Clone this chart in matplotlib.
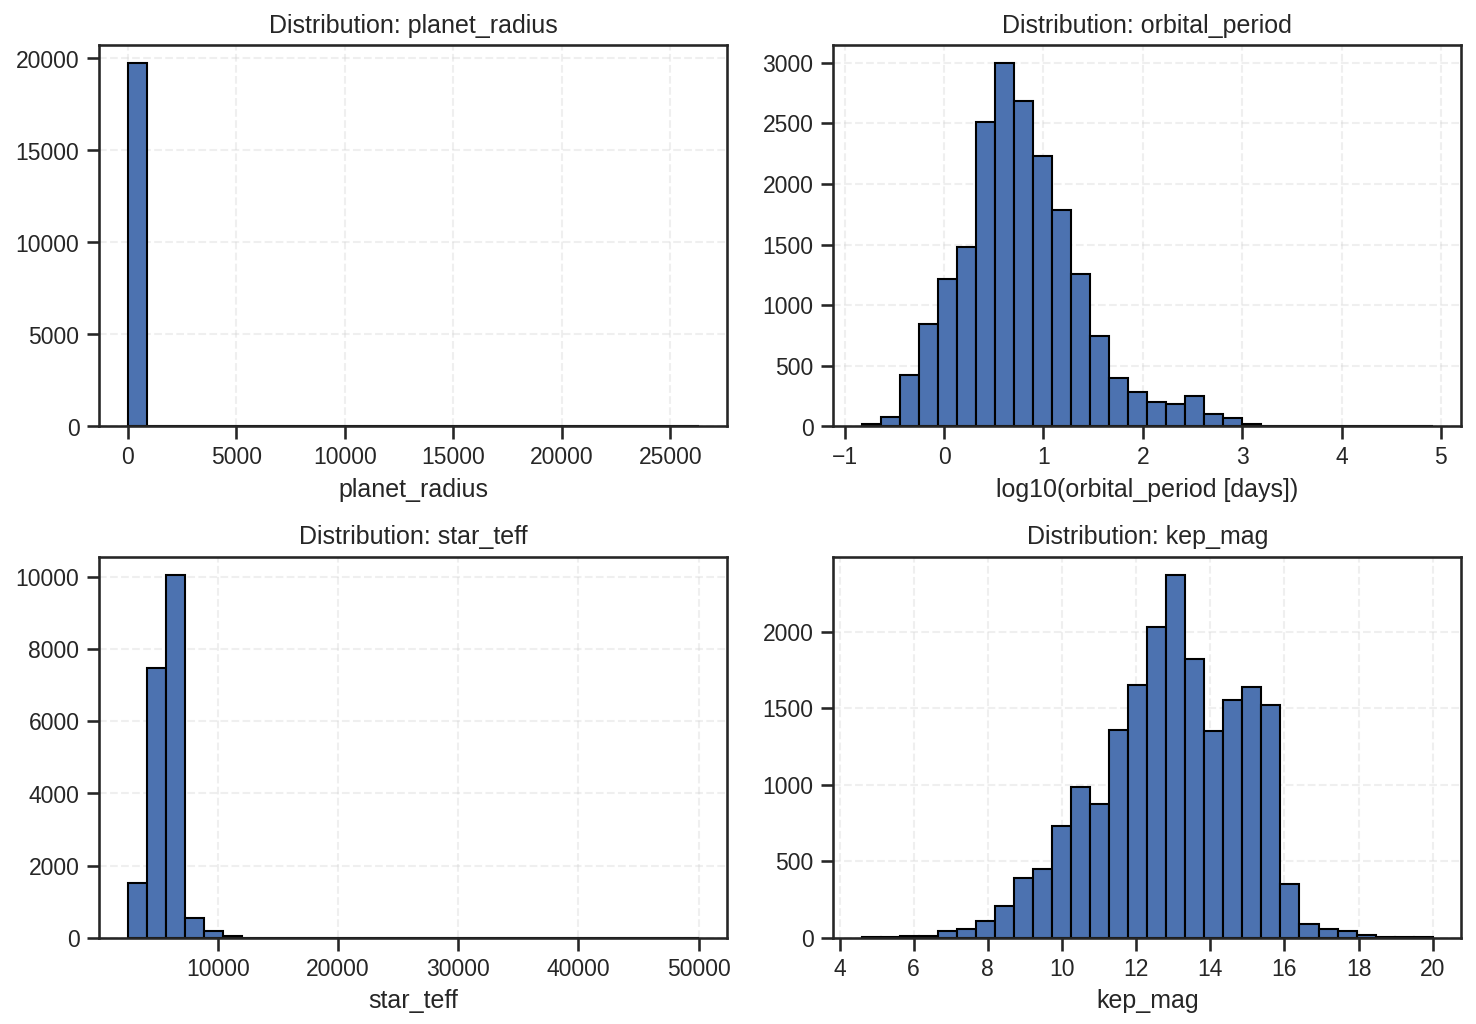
import numpy as np
import matplotlib
matplotlib.use("Agg")
import matplotlib.pyplot as plt
import seaborn as sns

sns.set_theme(style="ticks")
plt.rcParams['font.family'] = ['Liberation Sans', 'DejaVu Sans']

# histogram counts (30 bins each)
planet_radius_range = (0.5, 26300)
planet_radius_counts = [19746, 18, 6, 3, 2, 1, 1, 0, 1, 0, 0, 0, 0, 0, 0,
                        0, 0, 0, 0, 0, 0, 0, 0, 0, 0, 0, 0, 0, 0, 1]

orbital_period_range = (-0.828, 4.917)
orbital_period_counts = [20, 77, 426, 843, 1214, 1478, 2511, 2995, 2687, 2228,
                         1783, 1255, 745, 398, 283, 200, 184, 250, 102, 69,
                         19, 4, 2, 1, 1, 0, 0, 0, 0, 1]

star_teff_range = (2500, 50000)
star_teff_counts = [1521, 7465, 10055, 553, 203, 46, 12, 6, 3, 2, 1, 1, 0, 0, 0,
                    0, 0, 0, 0, 0, 0, 0, 0, 0, 0, 0, 0, 0, 0, 1]

kep_mag_range = (4.6, 20.0)
kep_mag_counts = [5, 6, 11, 13, 48, 59, 113, 209, 389, 448, 730, 989, 878, 1361,
                  1650, 2033, 2372, 1820, 1354, 1557, 1637, 1520, 352, 89, 57,
                  43, 17, 7, 6, 6]

panels = [
    ("Distribution: planet_radius", "planet_radius", planet_radius_range, planet_radius_counts),
    ("Distribution: orbital_period", "log10(orbital_period [days])", orbital_period_range, orbital_period_counts),
    ("Distribution: star_teff", "star_teff", star_teff_range, star_teff_counts),
    ("Distribution: kep_mag", "kep_mag", kep_mag_range, kep_mag_counts),
]

fig, axes = plt.subplots(2, 2, figsize=(9.84, 6.827), dpi=150)
fig.subplots_adjust(left=0.0672, right=0.990, bottom=0.084, top=0.956,
                    wspace=0.169, hspace=0.341)

for ax, (title, xlabel, rng, counts) in zip(axes.flat, panels):
    edges = np.linspace(rng[0], rng[1], len(counts) + 1)
    centers = (edges[:-1] + edges[1:]) / 2
    ax.hist(centers, bins=edges, weights=counts, color="#4C72B0",
            edgecolor="black", linewidth=1.0)
    ax.set_title(title)
    ax.set_xlabel(xlabel)
    ax.grid(True, linestyle="--", alpha=0.3)

fig.savefig("out.png", dpi=150)
